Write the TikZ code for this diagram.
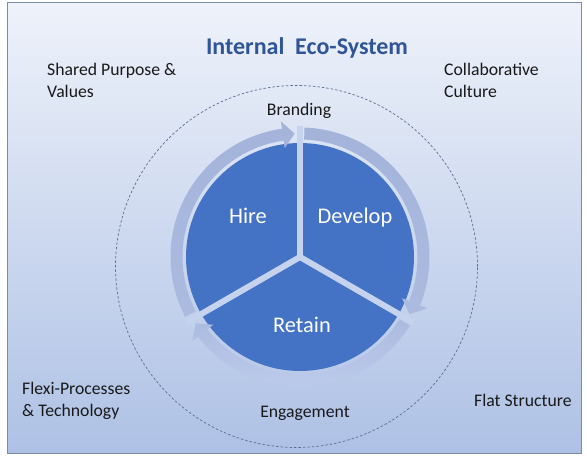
\documentclass[tikz,border=0pt]{standalone}
\usepackage{fontspec}
\setmainfont{Carlito}
\definecolor{bgtop}{HTML}{EEF2FA}
\definecolor{bgbot}{HTML}{AEC1E5}
\definecolor{framec}{HTML}{7C8CA6}
\definecolor{piec}{HTML}{4472C4}
\definecolor{ringtop}{HTML}{A3B3DA}
\definecolor{ringmid}{HTML}{ABBBE0}
\definecolor{ringbot}{HTML}{BCCAEA}
\definecolor{gapc}{HTML}{C6D3EE}
\definecolor{titlec}{HTML}{2F5597}
\definecolor{dashc}{HTML}{5B6F93}
\newcommand\ringarr[4]{%
  \shade[top color=#3, bottom color=#4]
    ([shift={(#1:129.5)}]C) arc[start angle=#1, end angle=#2+5.5, radius=129.5]
    -- ([shift={(#2+5.5:137)}]C) -- ([shift={(#2:123.5)}]C) -- ([shift={(#2+5.5:110)}]C)
    -- ([shift={(#2+5.5:117.5)}]C) arc[start angle=#2+5.5, end angle=#1, radius=117.5] -- cycle;}
\begin{document}
\begin{tikzpicture}[x=1pt,y=1pt,
  lbl/.style={font=\fontsize{17.7}{22}\selectfont, inner sep=0pt, text=black!90, align=left},
  seg/.style={font=\fontsize{22.4}{26}\selectfont, inner sep=0pt, text=white},
  gapline/.style={gapc, line width=6pt},
  ecoring/.style={dashc, line width=0.7pt, dash pattern=on 2.5pt off 2pt}]
\useasboundingbox (0,0) rectangle (587,459);
\fill[white] (0,0) rectangle (587,459);
\shade[top color=bgtop, bottom color=bgbot] (7,6) rectangle (581,456);
\draw[framec, line width=1pt] (7,6) rectangle (581,456);

% dashed eco-system circle
\draw[ecoring] (296.5,192.5) circle (181);

% pie
\coordinate (C) at (300,202);
\fill[piec] (C) circle (114);

% circular arrows
\ringarr{207.5}{92.5}{ringtop}{ringmid}
\ringarr{88}{-27.5}{ringtop}{ringmid}
\ringarr{-32}{-147.5}{ringmid}{ringbot}

% gaps
\draw[gapline] (C) -- ++(90:131);
\draw[gapline] (C) -- ++(210:131);
\draw[gapline] (C) -- ++(330:131);

% segment labels
\node[seg, anchor=base] (hire) at (248,236) {Hire};
\node[seg, anchor=base] (develop) at (355,236) {Develop};
\node[seg, anchor=base] (retain) at (302,127) {Retain};

% title
\node[font=\fontsize{24}{28}\selectfont\bfseries, text=titlec, inner sep=0pt, anchor=base] (title) at (307,404) {Internal\ \ Eco-System};

% labels
\node[lbl, anchor=north west] (shared) at (47,396) {Shared Purpose \&\\Values};
\node[lbl, anchor=north west] (collab) at (444,396) {Collaborative\\Culture};
\node[lbl, anchor=north west] (flexi) at (22,77) {Flexi-Processes\\\& Technology};
\node[lbl, anchor=base] (branding) at (299,343) {Branding};
\node[lbl, anchor=base] (engage) at (305,42) {Engagement};
\node[lbl, anchor=base west] (flat) at (474,53) {Flat Structure};
\end{tikzpicture}
\end{document}
